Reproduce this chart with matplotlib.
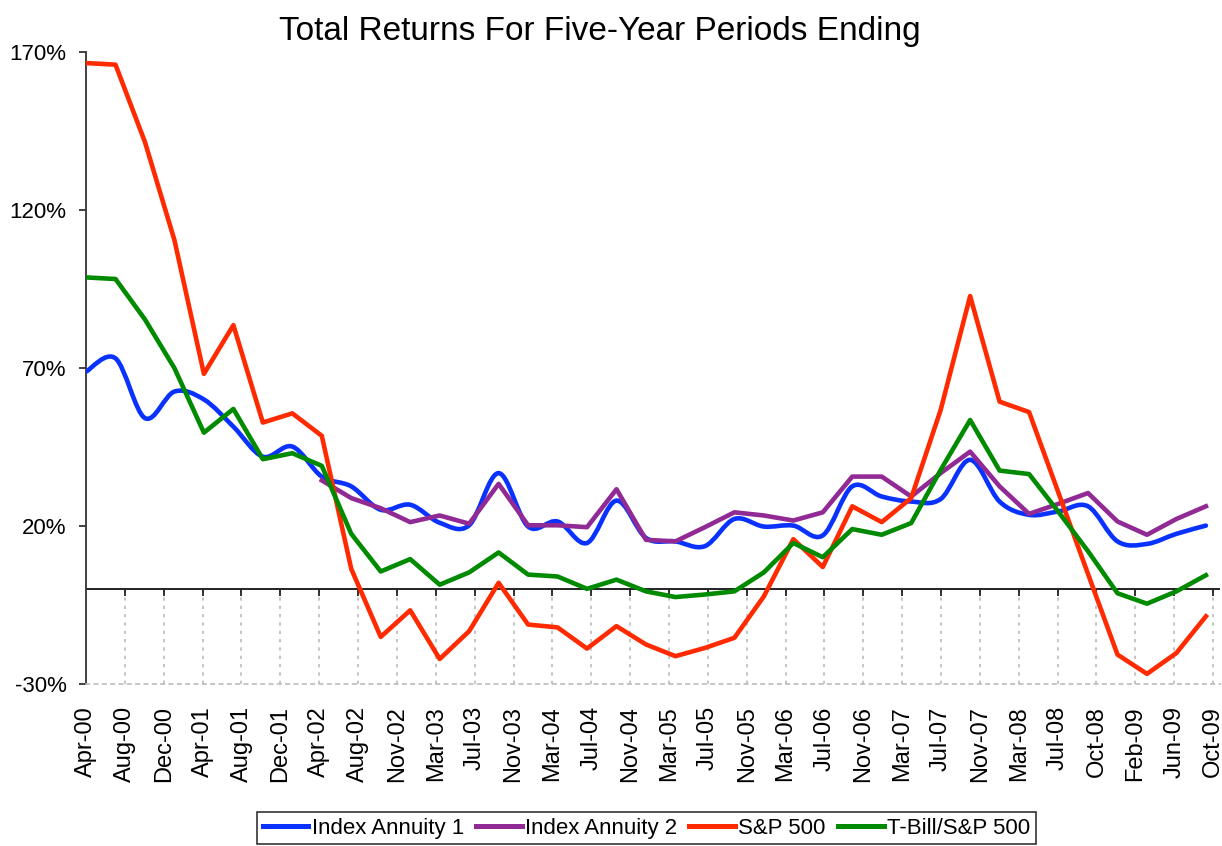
import matplotlib
matplotlib.use("Agg")
import matplotlib.pyplot as plt
import numpy as np
from matplotlib.path import Path
from matplotlib.patches import PathPatch
from matplotlib.lines import Line2D

# Kategorie-Beschriftungen (jede vierte Kategorie)
x_labels = ['Apr-00', 'Aug-00', 'Dec-00', 'Apr-01', 'Aug-01', 'Dec-01', 'Apr-02', 'Aug-02',
            'Nov-02', 'Mar-03', 'Jul-03', 'Nov-03', 'Mar-04', 'Jul-04', 'Nov-04', 'Mar-05',
            'Jul-05', 'Nov-05', 'Mar-06', 'Jul-06', 'Nov-06', 'Mar-07', 'Jul-07', 'Nov-07',
            'Mar-08', 'Jul-08', 'Oct-08', 'Feb-09', 'Jun-09', 'Oct-09']

# Quartalswerte Apr-00 .. Oct-09 (in %)
annuity_1 = [68.8, 73.0, 54.1, 62.5, 60.0, 51.4, 41.9, 45.1, 35.6, 32.5,
             25.1, 26.7, 21.0, 20.2, 36.7, 19.8, 21.4, 14.6, 28.0, 16.2,
             15.1, 13.6, 22.2, 19.8, 20.1, 17.0, 32.5, 29.3, 27.7, 28.5,
             40.9, 27.7, 23.5, 24.6, 26.2, 15.1, 14.3, 17.5, 20.1]

annuity_2 = [None] * 8 + [34.4, 28.8, 25.6, 21.2, 23.3, 20.7, 33.3, 20.2, 20.2, 19.6,
                          31.6, 15.6, 15.1, 19.6, 24.3, 23.3, 21.7, 24.3, 35.6, 35.6,
                          29.3, 36.7, 43.5, 32.5, 23.8, 27.0, 30.4, 21.4, 17.2, 22.2, 26.2]

sp500 = [166.4, 165.9, 141.4, 110.4, 68.1, 83.5, 52.7, 55.6, 48.5, 6.4,
         -15.1, -6.7, -22.1, -13.3, 2.0, -11.2, -12.1, -18.8, -11.7, -17.5,
         -21.2, -18.6, -15.4, -2.3, 15.8, 7.0, 26.2, 21.2, 28.8, 56.7,
         92.7, 59.3, 56.0, 30.4, 4.8, -20.7, -26.8, -20.2, -8.6]

tbill_sp = [98.6, 98.1, 85.3, 69.9, 49.5, 57.0, 41.1, 43.0, 39.0, 17.5,
            5.6, 9.5, 1.4, 5.3, 11.6, 4.6, 4.0, 0.1, 3.0, -0.7,
            -2.5, -1.7, -0.7, 5.3, 14.6, 10.1, 19.0, 17.2, 20.9, 37.7,
            53.5, 37.5, 36.4, 24.4, 12.0, -1.3, -4.6, -0.7, 4.4]

y_ticks = [-30, 20, 70, 120, 170]

c_blue = '#0A32FF'
c_purple = '#912A94'
c_red = '#FF2A00'
c_green = '#008A00'

plt.rcParams['font.family'] = ['Liberation Sans', 'DejaVu Sans']


# Geglaettete Linie wie in Excel (Bezier-Kurve durch die Punkte)
def glatte_kurve(x, y):
    n = len(x)
    verts = [(x[0], y[0])]
    codes = [Path.MOVETO]
    for i in range(n - 1):
        p0 = np.array([x[max(i - 1, 0)], y[max(i - 1, 0)]])
        p1 = np.array([x[i], y[i]])
        p2 = np.array([x[i + 1], y[i + 1]])
        p3 = np.array([x[min(i + 2, n - 1)], y[min(i + 2, n - 1)]])
        c1 = p1 + (p2 - p0) / 6
        c2 = p2 - (p3 - p1) / 6
        verts += [tuple(c1), tuple(c2), tuple(p2)]
        codes += [Path.CURVE4] * 3
    return Path(verts, codes)


x = np.arange(len(sp500))
a2 = np.array([np.nan if v is None else v for v in annuity_2], dtype=float)
tick_pos = np.arange(len(x_labels)) * 1.3187

fig = plt.figure(figsize=(12.22, 8.46), dpi=100)
ax = fig.add_axes([0.0704, 0.1915, 0.928, 0.7474])

lw = 3.3
ax.add_patch(PathPatch(glatte_kurve(x, annuity_1), facecolor='none', edgecolor=c_blue,
                       lw=lw, capstyle='round', joinstyle='round', zorder=3))
ax.plot(x, a2, color=c_purple, lw=lw, solid_joinstyle='round', zorder=4)
ax.plot(x, sp500, color=c_red, lw=lw, solid_joinstyle='round', zorder=5)
ax.plot(x, tbill_sp, color=c_green, lw=lw, solid_joinstyle='round', zorder=6)

# Nulllinie mit Teilstrichen und gepunkteten Hilfslinien darunter
ax.axhline(0, color='#222222', lw=1.4, zorder=2)
ax.vlines(tick_pos[1:], -30, 0, colors='#BBBBBB', linestyles=(0, (2, 3)), lw=1.2, zorder=1)
ax.vlines(tick_pos[1:], -2.3, 0, colors='#222222', lw=1.3, zorder=2)

ax.set_xlim(0, 38.48)
ax.set_ylim(-30, 170)

ax.spines['top'].set_visible(False)
ax.spines['right'].set_visible(False)
ax.spines['left'].set_color('#333333')
ax.spines['left'].set_linewidth(1.3)
ax.spines['bottom'].set_color('#BBBBBB')
ax.spines['bottom'].set_linestyle((0, (2, 3)))
ax.spines['bottom'].set_linewidth(1.2)

ax.set_xticks(tick_pos, x_labels, rotation=90, fontsize=17)
ax.tick_params(axis='x', length=0, pad=16)
ax.set_yticks(y_ticks, [f'{v}%' for v in y_ticks], fontsize=16)
ax.tick_params(axis='y', length=5, width=1.3, color='#333333', pad=9)

fig.text(0.491, 0.9527, 'Total Returns For Five-Year Periods Ending',
         ha='center', va='baseline', fontsize=24)

handles = [Line2D([], [], color=c, lw=3.6) for c in (c_blue, c_purple, c_red, c_green)]
labels = ['Index Annuity 1', 'Index Annuity 2', 'S&P 500', 'T-Bill/S&P 500']
leg = fig.legend(handles, labels, loc='upper center', bbox_to_anchor=(0.529, 0.040),
                 ncol=4, frameon=True, fancybox=False, edgecolor='black',
                 fontsize=16, handlelength=2.05, handletextpad=0.15, columnspacing=0.55,
                 borderpad=0.25, borderaxespad=0)
leg.get_frame().set_linewidth(1.2)

fig.savefig('out.png', dpi=100)
